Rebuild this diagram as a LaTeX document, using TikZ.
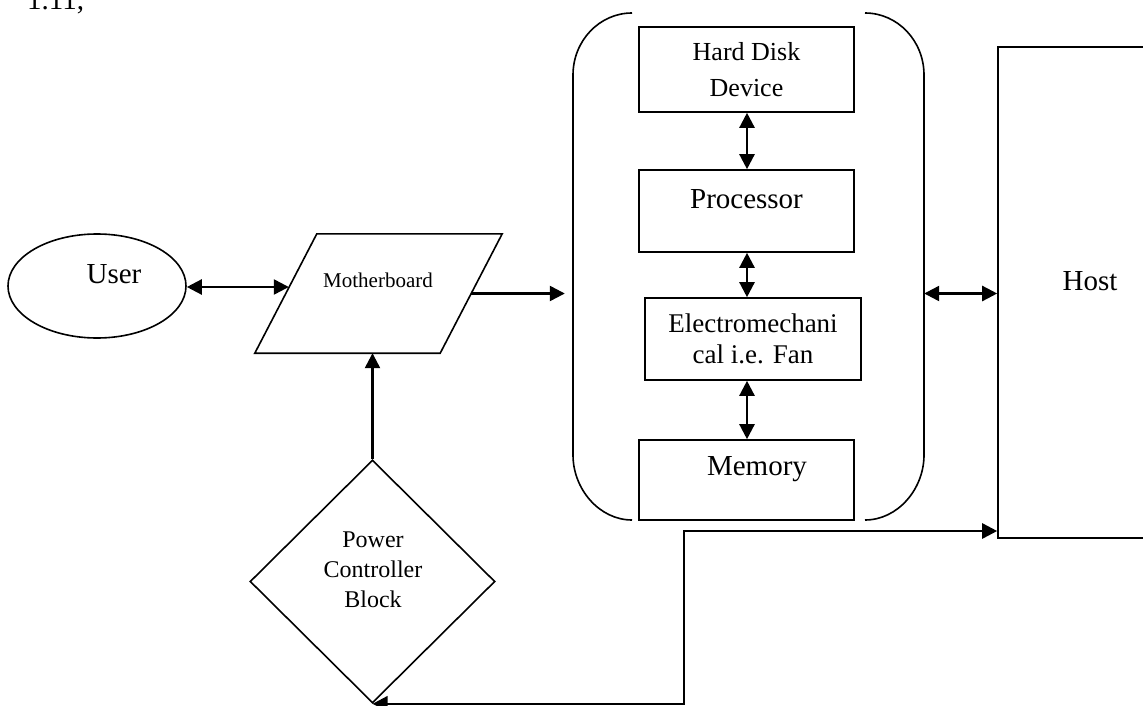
\documentclass[tikz,border=0pt]{standalone}
\usepackage{fontspec}
\setmainfont{Liberation Serif}
\usetikzlibrary{arrows.meta,shapes.geometric,calc}

\newcommand{\fs}[1]{\fontsize{#1}{#1}\selectfont}

\tikzset{
  box/.style={draw, line width=1.6pt, inner sep=0pt, align=center},
  outline/.style={line width=1.6pt},
  tip/.tip={Triangle[length=15pt,width=15pt]},
  conn/.style={line width=2.4pt, -tip},
  dbl/.style={line width=2.4pt, tip-tip},
  lbl/.style={inner sep=0pt, align=center}
}

\begin{document}
\begin{tikzpicture}[x=1pt, y=-1pt]
\useasboundingbox (0,0) rectangle (1143,706);

% figure number, cut off at the top edge
\node[anchor=base west, inner sep=0pt, font=\fs{29}] (fignum) at (27,10) {1.11,};

% user
\node[draw, ellipse, line width=1.6pt, minimum width=178, minimum height=104, inner sep=0pt] (user) at (97,286) {};
\node[lbl, anchor=base, font=\fs{29}] (userT) at (114,283) {User};

% motherboard: slanted parallelogram around a mid-width frame
\node[minimum width=185, minimum height=119, inner sep=0pt] (mb) at (378.5,293.5) {};
\draw[outline] ($(mb.south west)+(-31,0)$) -- ($(mb.north west)+(31,0)$)
               -- ($(mb.north east)+(31,0)$) -- ($(mb.south east)+(-31,0)$) -- cycle;
\node[lbl, anchor=base, font=\fs{21}] (mbT) at (378,287) {Motherboard};

% power controller
\node[draw, diamond, minimum width=245, minimum height=243, inner sep=0pt, line width=1.6pt] (pcb) at (372.5,581.5) {};
\node[lbl, font=\fontsize{24}{30}\selectfont] (pcbT) at (373,570) {Power\\Controller\\Block};

% component group with brackets
\node[minimum width=351, minimum height=507, inner sep=0pt] (grp) at (748.5,266.5) {};
\draw[outline] (632,13) .. controls (599.4,13) and (573,40.8) .. (573,75)
               -- (573,455) .. controls (573,489.2) and (599.4,520) .. (632,520);
\draw[outline] (865,13) .. controls (897.6,13) and (924,40.8) .. (924,75)
               -- (924,455) .. controls (924,489.2) and (897.6,520) .. (865,520);

\node[box, minimum width=215, minimum height=85, font=\fontsize{26}{36}\selectfont] (hdd) at (746.5,69.5) {Hard Disk\\Device};
\node[box, minimum width=215, minimum height=82] (proc) at (746.5,211) {};
\node[lbl, anchor=base, font=\fs{29}] (procT) at (746.5,208) {Processor};
\node[box, minimum width=216, minimum height=82, font=\fontsize{27}{31}\selectfont] (elec) at (753,339) {Electromechani\\cal i.e. Fan};
\node[box, minimum width=215, minimum height=80] (mem) at (746.5,480) {};
\node[lbl, anchor=base, font=\fs{29}] (memT) at (757,475) {Memory};

% host
\node[box, minimum width=200, minimum height=491] (host) at (1098,292.5) {};
\node[lbl, anchor=base, font=\fs{29}] (hostT) at (1090,290) {Host};

% connectors
\coordinate (uy) at (0,287);
\draw[dbl] (user.east |- uy) -- ($(mb.west |- uy)+(3,0)$);
\draw[conn, shorten >=8pt] (mb.east) -- (mb.east -| grp.west);
\draw[conn] (pcb.north) -- (pcb.north |- mb.south);
\draw[dbl] (grp.east |- mb.east) -- (host.west |- mb.east);

\draw[dbl] (hdd.south -| 747,0) -- (proc.north -| 747,0);
\draw[dbl] (proc.south -| 747,0) -- (elec.north -| 747,0);
\draw[dbl] (elec.south -| 747,0) -- (mem.north -| 747,0);

\coordinate (turn) at (684,531);
\draw[dbl, line width=2.6pt] (pcb.south) -| (turn) -- (turn -| host.west);
\end{tikzpicture}
\end{document}
